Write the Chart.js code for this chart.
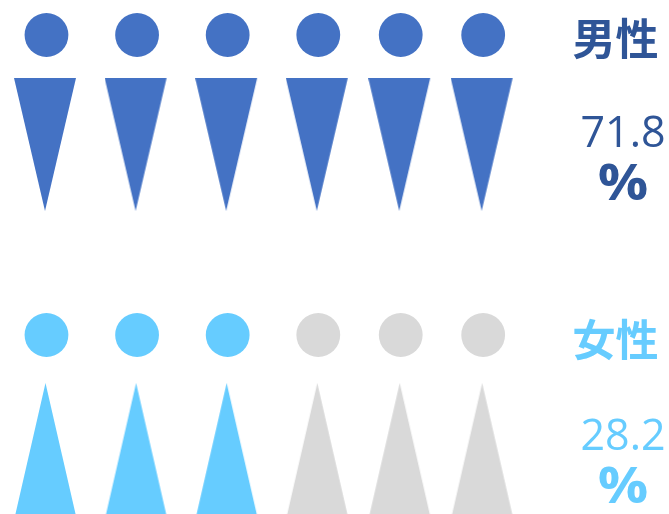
<!DOCTYPE html>
<html>
<head>
<meta charset="utf-8">
<script src="https://cdn.jsdelivr.net/npm/chart.js@4"></script>
<style>
  html, body { margin: 0; padding: 0; background: #fff; overflow: hidden; }
  #wrap { width: 669px; height: 514px; }
</style>
</head>
<body>
<div id="wrap"><canvas id="chart"></canvas></div>
<script>
// one person per column, the last two columns sit a little closer together
const personSlots = [0, 1, 2, 3, 3.91, 4.82];
const maleIcons = [1, 1, 1, 1, 1, 1];
const femaleIcons = [1, 1, 1, 0, 0, 0];
const maleLabel = "男性";
const femaleLabel = "女性";
const maleShare = "71.8";
const femaleShare = "28.2";
const percentSign = "%";

const colors = {
  male: "#4472C4",
  maleText: "#2F5597",
  female: "#66CCFF",
  empty: "#D9D9D9",
};

const rows = { maleHead: 0.35, maleBody: 1.445, femaleHead: 3.35, femaleBody: 4.495 };

function triangleIcon(color, pointingDown) {
  const c = document.createElement("canvas");
  c.width = 65;
  c.height = 133;
  const ctx = c.getContext("2d");
  ctx.fillStyle = color;
  ctx.beginPath();
  if (pointingDown) {
    ctx.moveTo(0, 0);
    ctx.lineTo(62, 0);
    ctx.lineTo(31, 133);
  } else {
    ctx.moveTo(1, 133);
    ctx.lineTo(62, 133);
    ctx.lineTo(31.5, 0);
  }
  ctx.closePath();
  ctx.fill();
  return c;
}

const maleBody = triangleIcon(colors.male, true);
const femaleBody = triangleIcon(colors.female, false);
const emptyBody = triangleIcon(colors.empty, false);

const points = (row) => personSlots.map((slot) => ({ x: slot, y: row }));

const textPlugin = {
  id: "sideText",
  afterDraw(chart) {
    const ctx = chart.ctx;
    const put = (text, x, y, font, color, stretch = 1) => {
      ctx.save();
      ctx.font = font;
      ctx.fillStyle = color;
      ctx.textAlign = "center";
      ctx.textBaseline = "alphabetic";
      ctx.translate(x, y);
      ctx.scale(stretch, 1);
      ctx.fillText(text, 0, 0);
      ctx.restore();
    };
    const cjk = "bold 43px 'Noto Sans CJK JP'";
    const num = "43px 'Open Sans'";
    const pct = "bold 51px 'Open Sans'";
    put(maleLabel, 615.5, 55, cjk, colors.maleText);
    put(maleShare, 623, 147, num, colors.maleText);
    put(percentSign, 623, 200, pct, colors.maleText, 1.1);
    put(femaleLabel, 615.5, 356, cjk, colors.female);
    put(femaleShare, 623, 450, num, colors.female);
    put(percentSign, 623, 503, pct, colors.female, 1.1);
  },
};

new Chart(document.getElementById("chart"), {
  type: "scatter",
  data: {
    datasets: [
      {
        label: "male head",
        data: points(rows.maleHead),
        pointStyle: "circle",
        pointRadius: 21.9,
        backgroundColor: maleIcons.map((on) => (on ? colors.male : colors.empty)),
        borderWidth: 0,
      },
      {
        label: "male body",
        data: points(rows.maleBody),
        pointStyle: maleIcons.map((on) => (on ? maleBody : emptyBody)),
      },
      {
        label: "female head",
        data: points(rows.femaleHead),
        pointStyle: "circle",
        pointRadius: 21.9,
        backgroundColor: femaleIcons.map((on) => (on ? colors.female : colors.empty)),
        borderWidth: 0,
      },
      {
        label: "female body",
        data: points(rows.femaleBody),
        pointStyle: femaleIcons.map((on) => (on ? femaleBody : emptyBody)),
      },
    ],
  },
  options: {
    responsive: true,
    maintainAspectRatio: false,
    animation: false,
    devicePixelRatio: 1,
    layout: { padding: 0, autoPadding: false },
    plugins: { legend: { display: false }, tooltip: { enabled: false } },
    scales: {
      x: { type: "linear", display: false, min: -0.513, max: 6.871 },
      y: { type: "linear", display: false, reverse: true, min: 0, max: 5.14 },
    },
  },
  plugins: [textPlugin],
});
</script>
</body>
</html>
